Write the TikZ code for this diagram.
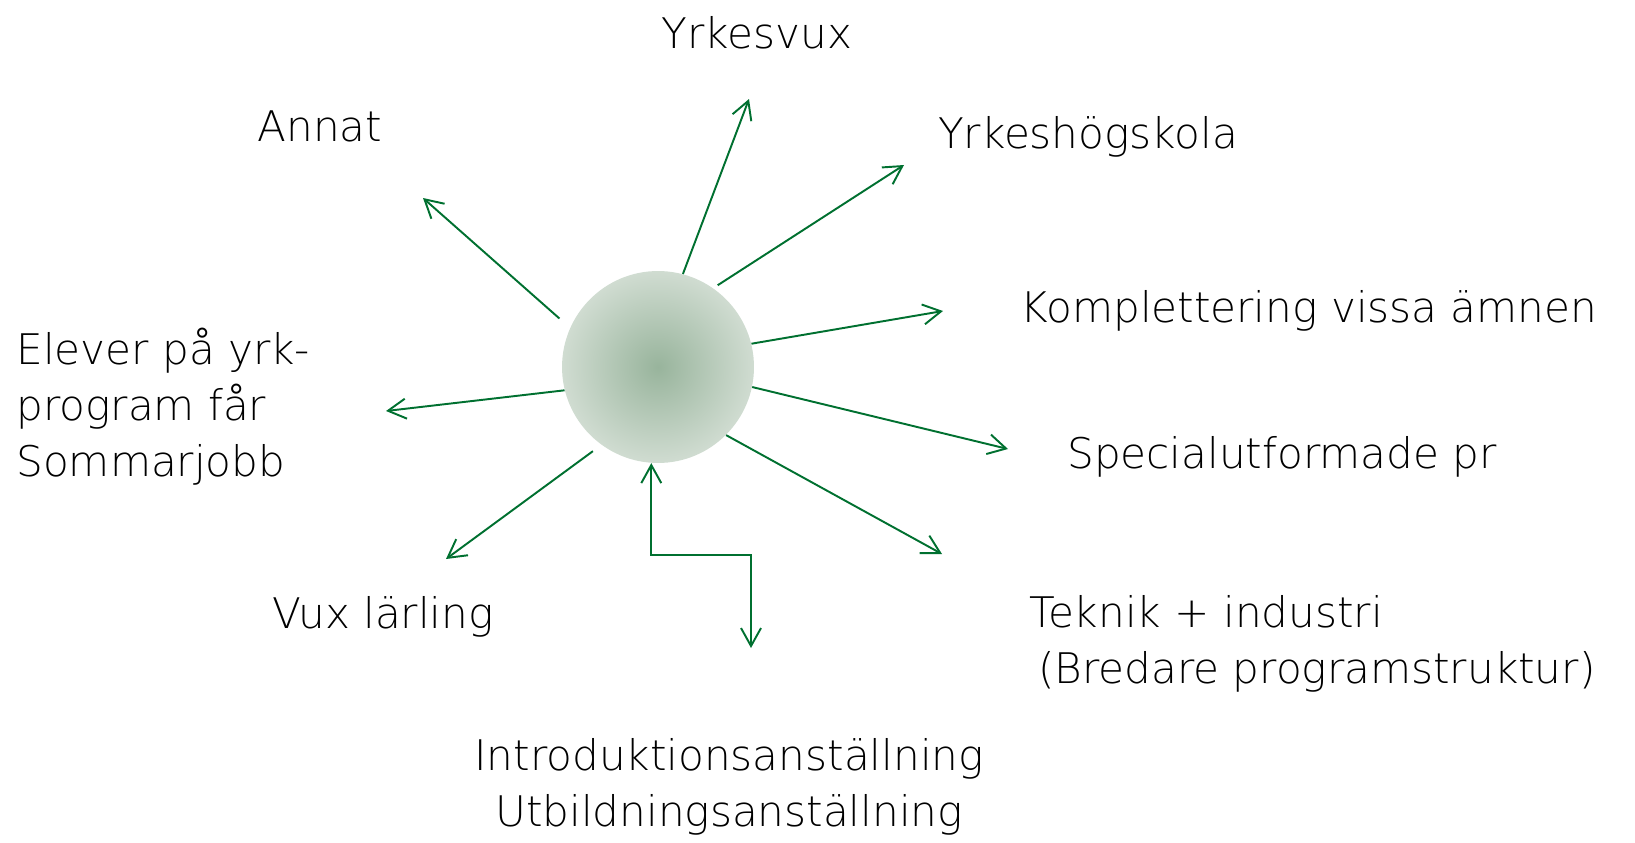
\documentclass[tikz,border=0pt]{standalone}
\usepackage{fontspec}
\setmainfont{DejaVu Sans ExtraLight}
\usetikzlibrary{arrows.meta}
\definecolor{arrowgreen}{RGB}{0,112,48}
\definecolor{hubinner}{RGB}{152,180,156}
\definecolor{hubouter}{RGB}{208,220,209}
\tikzset{
    barb/.tip={Straight Barb[length=3.6mm,width=4mm]},
    spoke/.style={draw=arrowgreen,line width=1.1pt,-barb},
    twoway/.style={draw=arrowgreen,line width=1.1pt,barb-barb},
    goal/.style={font=\fontsize{24}{31.9}\selectfont,inner sep=0pt}
}

\begin{document}
\begin{tikzpicture}[x=0.02cm,y=-0.02cm]
    \useasboundingbox (0,0) rectangle (1635,842);
    \node[circle,minimum size=3.84cm,inner sep=0pt,inner color=hubinner,outer color=hubouter] (hub) at (658,367) {};
    \node[goal] (yvux) at (757,33) {Yrkesvux};
    \node[goal] (annat) at (320,126) {Annat};
    \node[goal] (yhs) at (1088,137) {Yrkeshögskola};
    \node[goal] (kompl) at (1309,311) {Komplettering vissa ämnen};
    \node[goal] (spec) at (1282,457) {Specialutformade pr};
    \node[goal,anchor=west,align=left] (teknik) at (1029,644) {Teknik + industri\\\hspace*{5pt}(Bredare programstruktur)};
    \node[goal,anchor=west,align=left] (elever) at (16,407) {Elever på yrk-\\program får\\Sommarjobb};
    \node[goal] (vux) at (383,617) {Vux lärling};
    \node[goal,align=center] (intro) at (729,787) {Introduktionsanställning\\Utbildningsanställning};
    \coordinate (yvuxend) at (749,99);
    \coordinate (yhsend) at (904,165);
    \coordinate (komplend) at (943,311);
    \coordinate (specend) at (1008,449);
    \coordinate (teknikend) at (942,554);
    \coordinate (introend) at (751,648);
    \coordinate (vuxend) at (446,559);
    \coordinate (eleverend) at (386,411);
    \coordinate (annatend) at (423,198);
    \draw[spoke] (hub.75) -- (yvuxend);
    \draw[spoke,shorten <=3pt] (hub.55) -- (yhsend);
    \draw[spoke] (hub.14) -- (komplend);
    \draw[spoke] (hub.-12) -- (specend);
    \draw[spoke] (hub.-45) -- (teknikend);
    \draw[twoway] (hub.-94) -- ++(0,92) -| (introend);
    \draw[spoke,shorten <=6pt] (hub.-126) -- (vuxend);
    \draw[spoke] (hub.-166) -- (eleverend);
    \draw[spoke,shorten <=8pt] (hub.156) -- (annatend);
\end{tikzpicture}
\end{document}
